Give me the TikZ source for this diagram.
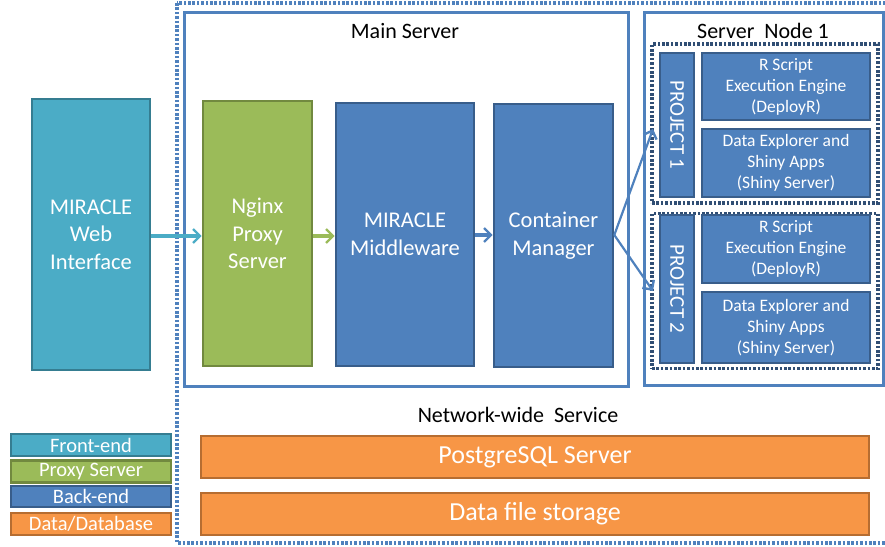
\documentclass[tikz,border=0pt]{standalone}
\usepackage{fontspec}
\setmainfont{Carlito}
\usetikzlibrary{arrows.meta}
\definecolor{cfront}{HTML}{4BACC6}
\definecolor{cfrontd}{HTML}{357D91}
\definecolor{cproxy}{HTML}{9BBB59}
\definecolor{cproxyd}{HTML}{71893F}
\definecolor{cback}{HTML}{4F81BD}
\definecolor{cbackd}{HTML}{385D8A}
\definecolor{cdata}{HTML}{F79646}
\definecolor{cdatad}{HTML}{B66D31}
\definecolor{cframe}{HTML}{4F81BD}
\definecolor{cdotdark}{HTML}{304E74}
\tikzset{
  box/.style={draw, line width=2.6pt, text=white, inner sep=0pt, align=center},
  frontbox/.style={box, fill=cfront, draw=cfrontd},
  proxybox/.style={box, fill=cproxy, draw=cproxyd},
  backbox/.style={box, fill=cback, draw=cbackd},
  databox/.style={box, fill=cdata, draw=cdatad},
  bigtxt/.style={font=\fontsize{22.5}{27.5}\selectfont},
  projtxt/.style={font=\fontsize{17.5}{21}\selectfont},
  legtxt/.style={font=\fontsize{20.5}{22}\selectfont},
  headtxt/.style={font=\fontsize{22}{24}\selectfont, text=black, inner sep=0pt},
  frame/.style={draw=cframe, line width=3pt},
  outerdot/.style={draw=cframe, line width=3.2pt, dash pattern=on 2.6pt off 1.8pt},
  projdot/.style={draw=cdotdark, line width=3.2pt, dash pattern=on 2.6pt off 1.8pt},
  conn/.style={line width=2.2pt, -{Straight Barb[length=7pt,width=14pt,line width=2.4pt]}},
}
\begin{document}
\begin{tikzpicture}[x=1pt,y=-1pt]
\useasboundingbox (0,0) rectangle (885,546);
% outer dotted frame
\draw[outerdot] (177,3) rectangle (889,543);
% main server frame
\node[frame, minimum width=444pt, minimum height=374pt, inner sep=0pt] (mainsrv) at (406,199) {};
\node[headtxt] (mainlbl) at (405,31) {Main Server};
% server node frame
\node[frame, minimum width=239pt, minimum height=373pt, inner sep=0pt] (node1) at (763.5,198.5) {};
\node[headtxt] (node1lbl) at (763,31) {Server\ \ Node 1};
% project dotted boxes
\node[projdot, minimum width=226pt, minimum height=159pt, inner sep=0pt] (p1frame) at (765,123.5) {};
\node[projdot, minimum width=226pt, minimum height=155pt, inner sep=0pt] (p2frame) at (765,291) {};
% project bars
\node[backbox, minimum width=34pt, minimum height=144pt] (proj1) at (677,125) {};
\node[rotate=-90, text=white, font=\fontsize{21}{24}\selectfont] (proj1t) at (proj1.center) {PROJECT 1};
\node[backbox, minimum width=34pt, minimum height=148pt] (proj2) at (677,289) {};
\node[rotate=-90, text=white, font=\fontsize{21}{24}\selectfont] (proj2t) at (proj2.center) {PROJECT 2};
% project content boxes
\node[backbox, projtxt, minimum width=168pt, minimum height=67pt] (rs1) at (786,86.5) {R Script\\Execution Engine\\(DeployR)};
\node[backbox, projtxt, minimum width=168pt, minimum height=68pt] (de1) at (786,163) {Data Explorer and\\Shiny Apps\\(Shiny Server)};
\node[backbox, projtxt, minimum width=168pt, minimum height=68pt] (rs2) at (786,249) {R Script\\Execution Engine\\(DeployR)};
\node[backbox, projtxt, minimum width=168pt, minimum height=71pt] (de2) at (786,327.5) {Data Explorer and\\Shiny Apps\\(Shiny Server)};
% main column boxes
\node[frontbox, bigtxt, minimum width=118pt, minimum height=271pt] (web) at (91,234.5) {MIRACLE\\Web\\Interface};
\node[proxybox, bigtxt, minimum width=109pt, minimum height=265pt] (nginx) at (257.5,233.5) {Nginx\\Proxy\\Server};
\node[backbox, bigtxt, minimum width=138pt, minimum height=263pt] (mid) at (405,234.5) {MIRACLE\\Middleware};
\node[backbox, bigtxt, minimum width=119pt, minimum height=263pt] (cm) at (553.5,235.5) {Container\\Manager};
% connectors
\coordinate (p1in) at (653,129);
\coordinate (p2in) at (653,291);
\draw[conn, draw=cfront, line width=3.4pt] (web.east |- 0,236) -- (nginx.west |- 0,236);
\draw[conn, draw=cproxy, line width=3.4pt] (nginx.east |- 0,236) -- (mid.west |- 0,236);
\draw[conn, draw=cback, line width=3.4pt] (mid.east |- 0,235) -- (cm.west |- 0,235);
\draw[conn, draw=cback] (cm.east |- 0,235) -- (p1in);
\draw[conn, draw=cback] (cm.east |- 0,235) -- (p2in);
% network-wide service
\node[headtxt] (netlbl) at (518,415) {Network-wide\ \ Service};
\node[databox, font=\fontsize{26}{28}\selectfont, minimum width=668pt, minimum height=42pt] (pg) at (535,457) {PostgreSQL Server};
\node[databox, font=\fontsize{26}{28}\selectfont, minimum width=668pt, minimum height=42pt] (dfs) at (535,514) {Data file storage};
% legend
\node[frontbox, legtxt, minimum width=160pt, minimum height=22pt] (lgfront) at (91,445) {Front-end};
\node[proxybox, legtxt, minimum width=160pt, minimum height=22pt] (lgproxy) at (91,471.5) {Proxy Server};
\node[backbox, legtxt, minimum width=160pt, minimum height=21pt] (lgback) at (91,496.5) {Back-end};
\node[databox, legtxt, minimum width=160pt, minimum height=22pt] (lgdata) at (91,524) {Data/Database};
\end{tikzpicture}
\end{document}
